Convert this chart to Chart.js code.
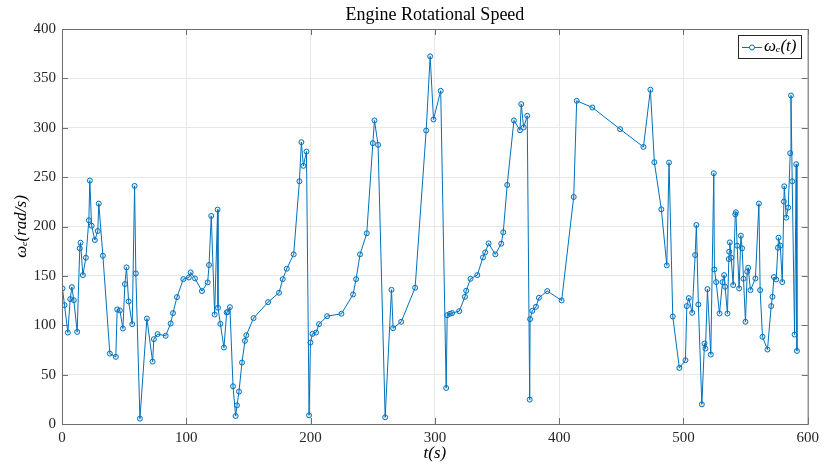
<!DOCTYPE html>
<html>
<head>
<meta charset="utf-8">
<title>Engine Rotational Speed</title>
<script src="https://cdn.jsdelivr.net/npm/chart.js@4.4.1/dist/chart.umd.min.js"></script>
<style>
    body { margin: 0; background: #fff; }
    #wrap { width: 824px; height: 475px; }
</style>
</head>
<body>
<div id="wrap"><canvas id="speedChart" width="824" height="475"></canvas></div>
<script>
"use strict";
// time stamps (s) and engine speed (rad/s)
const timeS = [0.4, 2, 4.7, 6.6, 7.9, 9.5, 12.2, 14.3, 14.9, 16.8,
    19.2, 21.6, 22.4, 23.8, 26.4, 28.8, 29.6, 32.9, 38.5, 43.3,
    44.4, 46.6, 49, 50.6, 51.9, 53.6, 56.5, 58.4, 59.4, 62.7,
    68.3, 72.9, 73.9, 76.9, 83.4, 87.4, 89.3, 92.5, 97.6, 102.1,
    103.5, 107, 112.6, 117.2, 118.3, 120.1, 122.8, 125.2, 125.5, 127.4,
    130.3, 132.5, 133.3, 135.1, 137.6, 139.7, 140.8, 142.4, 144.8, 147.2,
    148.3, 154.1, 165.8, 174.6, 177.6, 180.8, 186.4, 191, 192.6, 194.2,
    196.7, 198.8, 199.9, 201.5, 204.4, 206.8, 213.3, 224.8, 234.2, 236.6,
    239.8, 245.2, 250.1, 251.4, 254.3, 260, 265.1, 266.4, 272.9, 284.1,
    293, 296.2, 298.9, 304.7, 309.1, 309.9, 312.1, 313.9, 319.6, 324.2,
    325.2, 328.7, 334.1, 338.7, 340.5, 343.2, 348.6, 353.4, 355, 358.2,
    363.6, 368.5, 369.5, 371.4, 374.3, 376.3, 376.6, 378.4, 381.3, 383.7,
    390.4, 402, 411.7, 414.1, 426.7, 449, 467.8, 473.4, 476.6, 482.2,
    486.6, 488.4, 491.4, 496.7, 501.6, 502.7, 504.3, 507, 509.4, 510.4,
    512, 514.8, 516.9, 517.7, 519.3, 522, 524.4, 524.9, 526.3, 529,
    531.4, 532.7, 533.5, 535.4, 536.5, 536.8, 537.3, 538.4, 540, 541.7,
    542.2, 543.2, 544.8, 546.2, 547.2, 548.3, 549.9, 551.3, 552.1, 553.9,
    557.9, 560.7, 561.7, 563.6, 567.6, 570.6, 571.6, 572.8, 574.6, 576,
    576.5, 577.9, 579.5, 580.8, 581.1, 582.7, 584.3, 585.9, 586.5, 587.5,
    589.4, 590.7, 591.3];
const omegaE = [137.3, 120.4, 92.6, 126.5, 138.6, 125.4, 93.3, 177.9, 183.6, 150.8,
    168.4, 206.3, 246.5, 200.8, 186.3, 195.4, 223.2, 170.4, 71.3, 68,
    116, 115, 96.7, 141.7, 158.6, 124.1, 101.1, 241.1, 152.5, 5.4,
    106.8, 63.2, 85.9, 91, 89.3, 101.8, 112.3, 128.5, 146.7, 148.4,
    153.5, 147.4, 134.6, 143.4, 161, 210.7, 110.9, 217.1, 117.7, 101.4,
    77.4, 112.9, 113.6, 118.3, 38.2, 8.1, 18.9, 32.8, 62.2, 84.2,
    89.9, 107.2, 123.4, 132.9, 146.7, 157.2, 171.8, 245.8, 285.4, 261.4,
    275.9, 8.8, 82.5, 91.3, 92.6, 101.1, 109.2, 111.6, 131.2, 146.7,
    171.8, 193.1, 284.4, 307.4, 282.7, 6.8, 135.9, 97, 103.5, 138,
    297.2, 372.3, 308.4, 337.4, 36.5, 110.2, 111.6, 112.3, 114.3, 128.8,
    134.9, 147.1, 150.8, 168.7, 173.8, 182.9, 171.8, 182.6, 194.1, 242.1,
    307.4, 297.5, 323.9, 300.3, 312.1, 24.7, 106.2, 114.6, 118.7, 127.8,
    134.6, 125.1, 229.9, 327.3, 320.5, 298.6, 280.6, 338.5, 265.1, 217.4,
    160.6, 264.7, 108.9, 56.8, 64.6, 119.4, 127.5, 112.6, 171.1, 201.5,
    121, 19.9, 81.5, 76.4, 136.6, 70.3, 253.9, 156.5, 143.7, 111.9,
    143.7, 150.8, 139, 111.9, 167, 174.5, 183.9, 168.4, 140.7, 212.3,
    214.4, 180.6, 137.3, 190.7, 177.9, 147.1, 103.5, 154.2, 158.2, 135.6,
    147.4, 223.2, 135.6, 88.3, 75.4, 119.4, 128.8, 148.8, 146.4, 178.5,
    188.7, 180.6, 143.7, 225.2, 240.7, 209, 219.1, 274.2, 332.7, 245.8,
    90.6, 263.1, 74];
const xTicks = [0, 100, 200, 300, 400, 500, 600];
const yTicks = [0, 50, 100, 150, 200, 250, 300, 350, 400];
const chartTitle = 'Engine Rotational Speed';
const seriesLabel = 'ωₑ(t)';

const lineBlue = '#0072BD';
const serif = '"Liberation Serif", "DejaVu Serif", serif';

let points = [];
for (let i = 0; i < timeS.length; i++) {
    points.push({ x: timeS[i], y: omegaE[i] });
}

/**
 * Matlab style frame: box on all four sides, inward tick marks,
 * title over the plot area and a boxed legend in the top right corner.
 */
const matlabFrame = {
    id: 'matlabFrame',
    afterDraw(chart) {
        const ctx = chart.ctx;
        const a = chart.chartArea;
        const xs = chart.scales.x, ys = chart.scales.y;
        ctx.save();
        ctx.strokeStyle = '#6e6e6e';
        ctx.lineWidth = 1;
        ctx.strokeRect(a.left + 0.5, a.top + 0.5, a.right - a.left, a.bottom - a.top);
        ctx.beginPath();
        xTicks.forEach(function (v) {
            const px = Math.round(xs.getPixelForValue(v)) + 0.5;
            ctx.moveTo(px, a.bottom); ctx.lineTo(px, a.bottom - 6);
            ctx.moveTo(px, a.top); ctx.lineTo(px, a.top + 6);
        });
        yTicks.forEach(function (v) {
            const py = Math.round(ys.getPixelForValue(v)) + 0.5;
            ctx.moveTo(a.left, py); ctx.lineTo(a.left + 6, py);
            ctx.moveTo(a.right, py); ctx.lineTo(a.right - 6, py);
        });
        ctx.stroke();

        // title
        ctx.fillStyle = '#000';
        ctx.font = '18px ' + serif;
        ctx.textAlign = 'center';
        ctx.textBaseline = 'middle';
        ctx.fillText(chartTitle, (a.left + a.right) / 2, 15);

        // legend
        const bx = 738, by = 35, bw = 63, bh = 23;
        ctx.fillStyle = '#fff';
        ctx.fillRect(bx, by, bw, bh);
        ctx.strokeStyle = '#262626';
        ctx.strokeRect(bx + 0.5, by + 0.5, bw, bh);
        ctx.strokeStyle = lineBlue;
        ctx.beginPath();
        ctx.moveTo(bx + 4, by + 12.5); ctx.lineTo(bx + 24, by + 12.5);
        ctx.stroke();
        ctx.beginPath();
        ctx.arc(bx + 14, by + 12.5, 2.5, 0, Math.PI * 2);
        ctx.fillStyle = '#fff';
        ctx.fill();
        ctx.stroke();
        ctx.fillStyle = '#000';
        ctx.font = 'italic 17px ' + serif;
        ctx.textAlign = 'left';
        ctx.fillText(seriesLabel, bx + 26, by + 12);
        ctx.restore();
    }
};

const ctx = document.getElementById('speedChart');
const speedChart = new Chart(ctx, {
    type: 'line',
    data: {
        datasets: [{
            label: seriesLabel,
            data: points,
            borderColor: lineBlue,
            borderWidth: 1,
            pointRadius: 2.5,
            pointBorderWidth: 1,
            pointBorderColor: lineBlue,
            pointBackgroundColor: 'rgba(0, 114, 189, 0.12)',
            tension: 0
        }]
    },
    options: {
        responsive: false,
        animation: false,
        layout: { padding: { top: 29, right: 16, left: 0, bottom: 0 } },
        plugins: {
            legend: { display: false },
            title: { display: false },
            tooltip: { enabled: false }
        },
        scales: {
            x: {
                type: 'linear',
                min: 0,
                max: 600,
                afterFit: function (s) { s.height = 51; },
                afterBuildTicks: function (s) { s.ticks = xTicks.map(v => ({ value: v })); },
                ticks: { color: '#262626', padding: 5, font: { family: serif, size: 15 } },
                grid: { color: '#e8e8e8', drawTicks: false },
                border: { display: false },
                title: {
                    display: true,
                    text: 't(s)',
                    color: '#000',
                    font: { family: serif, size: 17, style: 'italic' },
                    padding: { top: 0, bottom: 11 }
                }
            },
            y: {
                min: 0,
                max: 400,
                afterFit: function (s) { s.width = 62; },
                afterBuildTicks: function (s) { s.ticks = yTicks.map(v => ({ value: v })); },
                ticks: { color: '#262626', padding: 6, font: { family: serif, size: 15 } },
                grid: { color: '#e8e8e8', drawTicks: false },
                border: { display: false },
                title: {
                    display: true,
                    text: 'ωₑ(rad/s)',
                    color: '#000',
                    font: { family: serif, size: 17, style: 'italic' },
                    padding: { top: 11, bottom: 0 }
                }
            }
        }
    },
    plugins: [matlabFrame]
});
</script>
</body>
</html>
